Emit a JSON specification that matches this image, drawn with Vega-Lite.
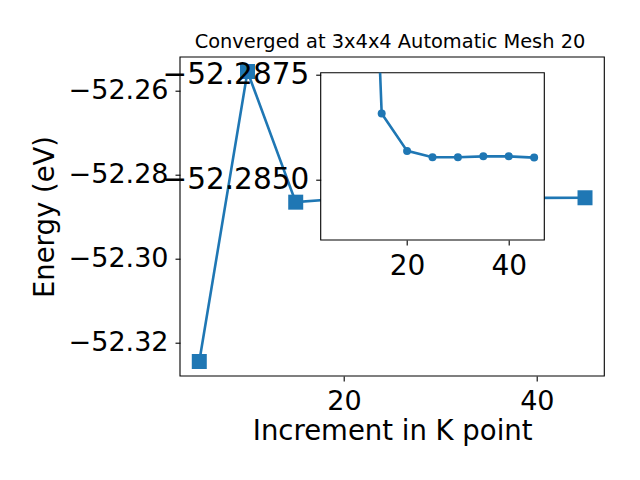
{
  "$schema": "https://vega.github.io/schema/vega-lite/v6.json",
  "autosize": {"type": "none"},
  "padding": {"left": 320.7, "top": 72.7, "right": 95.7, "bottom": 240},
  "width": 223.6,
  "height": 167.3,
  "background": "white",
  "title": {
    "text": "Converged at 3x4x4 Automatic Mesh 20",
    "fontSize": 19.4,
    "fontWeight": "normal",
    "font": "DejaVu Sans",
    "anchor": "middle",
    "frame": "group",
    "dx": -42.5,
    "dy": 19,
    "baseline": "alphabetic",
    "offset": 8,
    "color": "black"
  },
  "config": {
    "font": "DejaVu Sans",
    "view": {"stroke": null},
    "axis": {
      "grid": false,
      "domain": false,
      "tickColor": "black",
      "tickWidth": 1.1,
      "tickSize": 5,
      "labelColor": "black",
      "titleColor": "black",
      "labelFont": "DejaVu Sans",
      "titleFont": "DejaVu Sans",
      "titleFontWeight": "normal",
      "labelFlush": false,
      "labelOverlap": false
    }
  },
  "datasets": {
    "main": [
      {"k": 5, "energy": -52.3246},
      {"k": 10, "energy": -52.2554},
      {"k": 15, "energy": -52.28658},
      {"k": 20, "energy": -52.28569},
      {"k": 25, "energy": -52.28554},
      {"k": 30, "energy": -52.28554},
      {"k": 35, "energy": -52.28556},
      {"k": 40, "energy": -52.28556},
      {"k": 45, "energy": -52.28553}
    ],
    "inset": [
      {"k": 10, "energy": -52.302},
      {"k": 15, "energy": -52.28658},
      {"k": 20, "energy": -52.28569},
      {"k": 25, "energy": -52.28554},
      {"k": 30, "energy": -52.28554},
      {"k": 35, "energy": -52.28556},
      {"k": 40, "energy": -52.28556},
      {"k": 45, "energy": -52.28553}
    ]
  },
  "layer": [
    {
      "data": {"name": "main"},
      "layer": [
        {
          "mark": {"type": "line", "color": "#1f77b4", "strokeWidth": 2.6, "clip": false},
          "encoding": {
            "x": {
              "field": "k",
              "type": "quantitative",
              "title": "Increment in K point",
              "scale": {"domain": [3, 47], "range": [-140.7, 283.6], "nice": false, "zero": false},
              "axis": {"orient": "bottom", "offset": 136, "values": [20, 40], "labelFontSize": 27, "titleFontSize": 27.5, "labelPadding": 7, "titlePadding": 3}
            },
            "y": {
              "field": "energy",
              "type": "quantitative",
              "title": "Energy (eV)",
              "scale": {"domain": [-52.32806, -52.25194], "range": [303.3, -15.7], "nice": false, "zero": false},
              "axis": {"orient": "left", "offset": 140.7, "values": [-52.32, -52.30, -52.28, -52.26], "format": ".2f", "labelFontSize": 27, "titleFontSize": 27.5, "labelPadding": 7, "titlePadding": 9}
            }
          }
        },
        {
          "mark": {"type": "square", "color": "#1f77b4", "size": 225, "opacity": 1, "filled": true, "clip": false},
          "encoding": {
            "x": {"field": "k", "type": "quantitative", "title": "Increment in K point"},
            "y": {"field": "energy", "type": "quantitative", "title": "Energy (eV)"}
          }
        },
        {
          "transform": [{"aggregate": [{"op": "count", "as": "n"}]}],
          "mark": {"type": "rect", "fill": "transparent", "stroke": "black", "strokeWidth": 1.1, "clip": false},
          "encoding": {
            "x": {"datum": 3, "type": "quantitative", "title": "Increment in K point"},
            "x2": {"datum": 47},
            "y": {"datum": -52.32806, "type": "quantitative", "title": "Energy (eV)"},
            "y2": {"datum": -52.25194}
          }
        }
      ]
    },
    {
      "data": {"name": "inset"},
      "layer": [
        {
          "transform": [{"aggregate": [{"op": "count", "as": "n"}]}],
          "mark": {"type": "rect", "fill": "white", "stroke": "black", "strokeWidth": 1.1, "opacity": 1},
          "encoding": {
            "x": {
              "datum": 3,
              "type": "quantitative",
              "title": null,
              "scale": {"domain": [3, 47], "nice": false, "zero": false},
              "axis": {"orient": "bottom", "values": [20, 40], "labelFontSize": 28, "labelPadding": 7, "zindex": 1}
            },
            "x2": {"datum": 47},
            "y": {
              "datum": -52.28755,
              "type": "quantitative",
              "title": null,
              "scale": {"domain": [-52.28755, -52.28357], "reverse": true, "nice": false, "zero": false},
              "axis": {"orient": "left", "values": [-52.2875, -52.285], "format": ".4f", "labelFontSize": 29.5, "labelPadding": 7, "zindex": 1}
            },
            "y2": {"datum": -52.28357}
          }
        },
        {
          "mark": {"type": "line", "color": "#1f77b4", "strokeWidth": 2.6, "clip": true},
          "encoding": {
            "x": {"field": "k", "type": "quantitative", "title": null},
            "y": {"field": "energy", "type": "quantitative", "title": null}
          }
        },
        {
          "mark": {"type": "circle", "color": "#1f77b4", "size": 64, "opacity": 1, "clip": true},
          "encoding": {
            "x": {"field": "k", "type": "quantitative", "title": null},
            "y": {"field": "energy", "type": "quantitative", "title": null}
          }
        }
      ]
    }
  ],
  "resolve": {
    "scale": {"x": "independent", "y": "independent"},
    "axis": {"x": "independent", "y": "independent"}
  }
}
